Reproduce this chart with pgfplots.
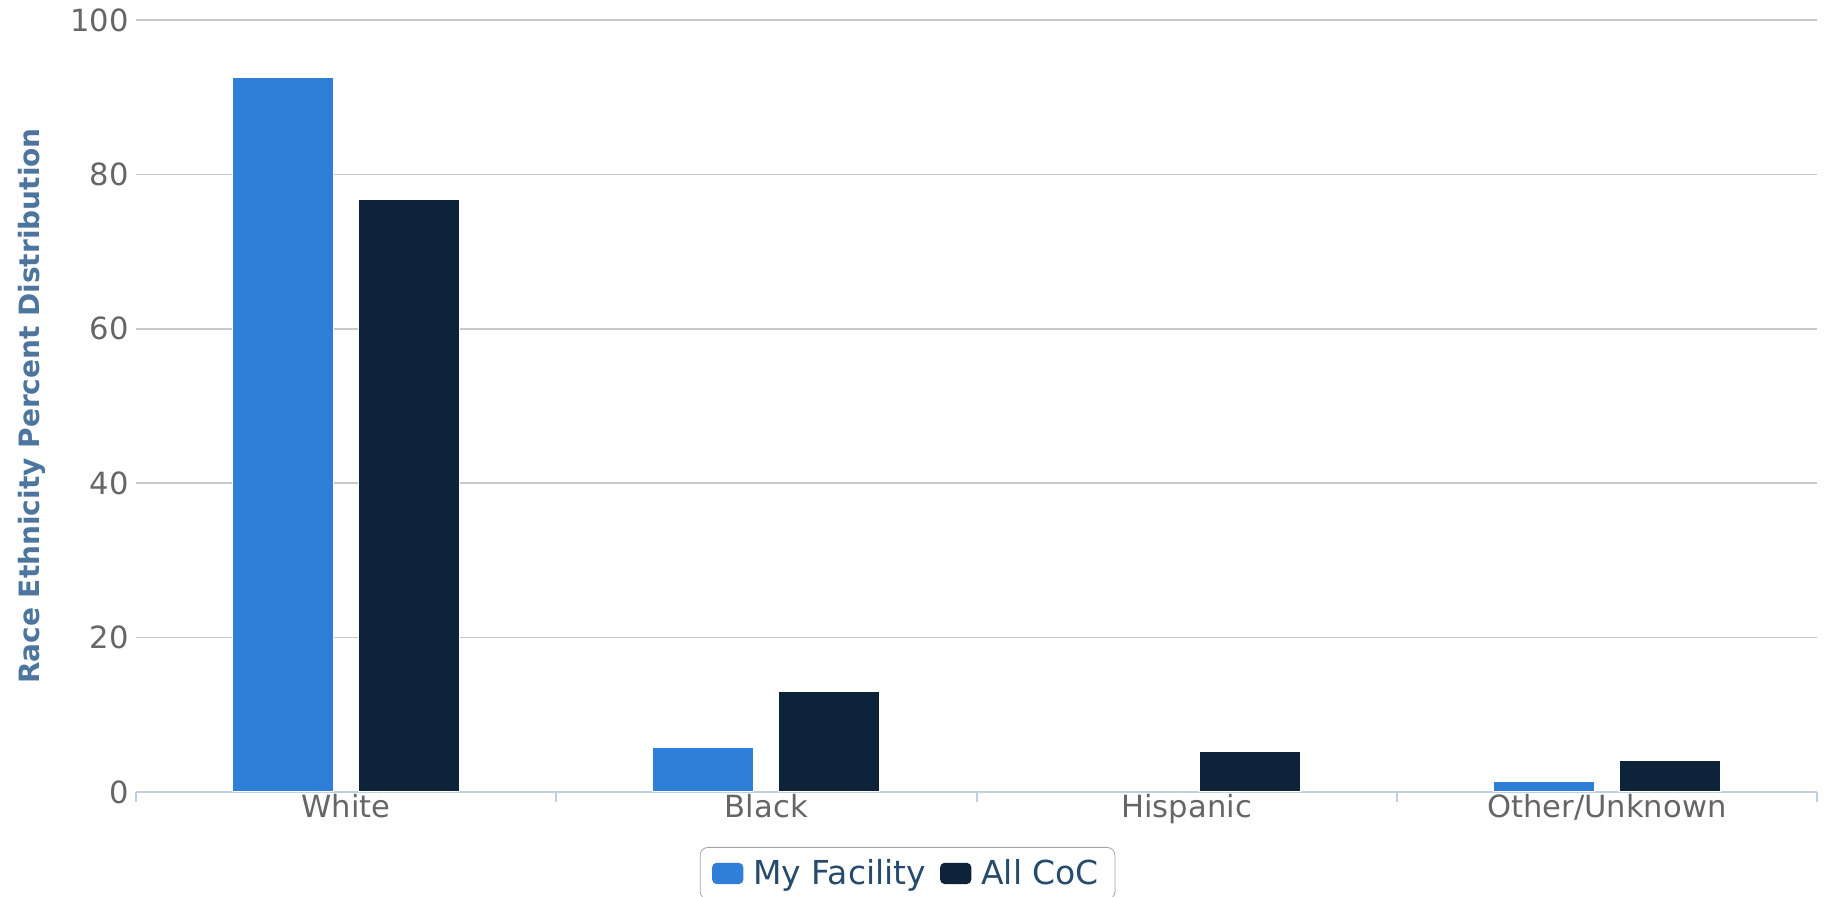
\documentclass[border=0pt]{standalone}
\usepackage{fontspec}
\setmainfont{DejaVu Sans}
\usepackage{pgfplots}
\pgfplotsset{compat=1.18}
\definecolor{facility}{HTML}{2F7ED8}
\definecolor{coc}{HTML}{0D233A}
\definecolor{ticktext}{HTML}{666666}
\definecolor{axtitle}{HTML}{4D759E}
\definecolor{legtext}{HTML}{274B6D}
\definecolor{gridc}{HTML}{C8C8C8}
\definecolor{xline}{HTML}{C0D0E0}

\begin{document}
\begin{tikzpicture}
\useasboundingbox (-68pt,-52.5pt) rectangle (845pt,396pt);
\begin{axis}[
  at={(0,0)}, anchor=south west,
  scale only axis, width=840.5pt, height=386pt,
  ybar, bar width=50.5pt,
  xmin=-0.5, xmax=3.5, ymin=0, ymax=100,
  ytick={0,20,...,100},
  xtick={0,1,2,3},
  xticklabels={White,Black,Hispanic,Other/Unknown},
  major tick length=0pt,
  extra x ticks={-0.5,0.5,1.5,2.5,3.5},
  extra x tick labels={},
  extra x tick style={major tick length=5pt, tick align=outside,
    tick style={xline, line width=1pt}, grid=none},
  ymajorgrids, grid style={gridc, line width=0.8pt},
  axis x line*=bottom, axis y line*=left,
  x axis line style={xline, line width=1pt, -},
  y axis line style={draw=none},
  tick label style={font=\fontsize{15.3}{18}\selectfont, text=ticktext},
  xticklabel style={yshift=2.5pt},
  /pgf/number format/assume math mode=true,
  ylabel={Race Ethnicity Percent Distribution},
  ylabel style={at={(axis description cs:-0.062,0.5)}, anchor=center,
    font=\bfseries\fontsize{14}{16}\selectfont, text=axtitle},
  legend style={at={(axis description cs:0.459,0)}, yshift=-27.5pt, anchor=north,
    legend columns=2, draw=gray!70, rounded corners=4pt,
    inner xsep=6pt, inner ysep=4pt,
    font=\fontsize{16.5}{19}\selectfont, text=legtext,
    /tikz/every even column/.append style={column sep=5pt},
    /tikz/every odd column/.append style={column sep=3pt}},
]
\addplot[fill=facility, draw=white, line width=0.6pt, bar shift=-31.5pt,
  legend image code/.code={\fill[facility, rounded corners=2pt] (0pt,-5pt) rectangle (15pt,5pt);}]
  coordinates {(0,92.6) (1,5.75) (3,1.4)};
\addplot[fill=coc, draw=white, line width=0.6pt, bar shift=31.5pt,
  legend image code/.code={\fill[coc, rounded corners=2pt] (0pt,-5pt) rectangle (15pt,5pt);}]
  coordinates {(0,76.8) (1,13.0) (2,5.3) (3,4.15)};
\legend{My Facility, All CoC}
\end{axis}
\end{tikzpicture}
\end{document}
